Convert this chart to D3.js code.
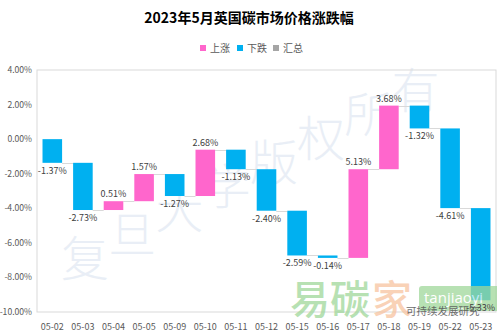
<!DOCTYPE html>
<html><head><meta charset="utf-8">
<script src="https://cdn.jsdelivr.net/npm/d3@7"></script>
<style>body{margin:0;background:#fff}svg{display:block}</style>
</head><body>
<svg id="c" width="497" height="335"></svg>
<script>
const categories = ["05-02","05-03","05-04","05-05","05-09","05-10","05-11","05-12","05-15","05-16","05-17","05-18","05-19","05-22","05-23"];
const changes = [-1.37,-2.73,0.51,1.57,-1.27,2.68,-1.13,-2.40,-2.59,-0.14,5.13,3.68,-1.32,-4.61,-5.33];
const yTicks = [4,2,0,-2,-4,-6,-8,-10];
const legendItems = ["上涨","下跌","汇总"];
const title = "2023年5月英国碳市场价格涨跌幅";

const colors = {"上涨":"#FF66CC","下跌":"#00B0F0","汇总":"#A5A5A5"};
const font = "'Microsoft YaHei','Noto Sans CJK SC','Noto Sans',sans-serif";
const svg = d3.select("#c");
const L=37,R=496,T=70,B=312;

let cum=0;
const rows = categories.map((c,i)=>{const s=cum; cum+=changes[i]; return {c,v:changes[i],start:s,end:cum};});

const x = d3.scaleBand().domain(categories).range([L,R]).paddingInner(0.36).paddingOuter(0.18);
const y = d3.scaleLinear().domain([-10,4]).range([B,T]);

// watermark text
const wm = "复旦大学版权所有";
const wmG = svg.append("g").attr("transform","translate(85,255) rotate(-27)");
wm.split("").forEach((ch,i)=>{
  wmG.append("text").attr("x",i*53).attr("y",0).attr("text-anchor","middle").attr("dominant-baseline","central")
    .attr("font-family","'Noto Sans CJK SC',sans-serif").attr("font-weight",300).attr("font-size",48)
    .attr("fill","#c9d7ea").attr("opacity",0.4).attr("transform",`rotate(27,${i*53},0)`).text(ch);
});

// plot border
svg.append("rect").attr("x",L).attr("y",T).attr("width",R-L).attr("height",B-T)
  .attr("fill","none").attr("stroke","#D9D9D9").attr("stroke-width",1);

// connectors
rows.forEach((d,i)=>{
  if(i<rows.length-1){
    svg.append("line").attr("x1",x(d.c)+x.bandwidth()).attr("x2",x(rows[i+1].c))
      .attr("y1",Math.round(y(d.end))+0.5).attr("y2",Math.round(y(d.end))+0.5)
      .attr("stroke","#D9D9D9").attr("stroke-width",1);
  }
});

// bars
svg.append("g").selectAll("rect").data(rows).join("rect")
  .attr("x",d=>x(d.c)).attr("width",x.bandwidth())
  .attr("y",d=>y(Math.max(d.start,d.end))).attr("height",d=>Math.abs(y(d.start)-y(d.end)))
  .attr("fill",d=>d.v>=0?colors["上涨"]:colors["下跌"]);

// y axis labels
svg.append("g").selectAll("text").data(yTicks).join("text")
  .attr("x",32).attr("y",d=>y(d)).attr("dy","0.35em").attr("text-anchor","end")
  .attr("font-family",font).attr("font-size",8.6).attr("fill","#595959").text(d=>d.toFixed(2)+"%");

// x axis labels
svg.append("g").selectAll("text").data(categories).join("text")
  .attr("x",d=>x(d)+x.bandwidth()/2).attr("y",327).attr("dy","0.35em").attr("text-anchor","middle")
  .attr("font-family",font).attr("font-size",9).attr("fill","#595959").text(d=>d);

// title
svg.append("text").attr("x",249).attr("y",18).attr("dy","0.35em").attr("text-anchor","middle")
  .attr("font-family",font).attr("font-weight","bold").attr("font-size",14).attr("fill","#000").text(title);

// legend
const lx=[200,237,273];
legendItems.forEach((t,i)=>{
  svg.append("rect").attr("x",lx[i]).attr("y",45).attr("width",6).attr("height",6).attr("fill",colors[t]);
  svg.append("text").attr("x",lx[i]+10).attr("y",48).attr("dy","0.35em").attr("font-family",font)
    .attr("font-size",10).attr("fill","#595959").text(t);
});

// logo watermark
const lg = svg.append("g").attr("opacity",0.75);
lg.append("text").attr("x",290).attr("y",314).attr("font-family","'Noto Sans CJK SC',sans-serif").attr("font-size",40)
  .attr("font-weight",500).attr("fill","#9fd79a").text("易碳");
lg.append("text").attr("x",372).attr("y",314).attr("font-family","'Noto Sans CJK SC',sans-serif").attr("font-size",40)
  .attr("font-weight",500).attr("fill","#f7c3a0").text("家");
lg.append("rect").attr("x",419).attr("y",286).attr("width",80).attr("height",25).attr("rx",3).attr("fill","#9fd79a");
lg.append("text").attr("x",424).attr("y",303).attr("font-family","'Open Sans',sans-serif").attr("font-size",15)
  .attr("fill","#fff").text("tanjiaoyi");
lg.append("text").attr("x",440).attr("y",314).attr("font-family","'Open Sans',sans-serif").attr("font-size",11)
  .attr("fill","#fff").attr("opacity",0.8).text(".com");
svg.append("text").attr("x",406).attr("y",315).attr("font-family","'Noto Sans CJK SC',sans-serif").attr("font-size",10.5)
  .attr("fill","#555").attr("opacity",0.85).text("可持续发展研究");

// value labels (on top)
svg.append("g").selectAll("text").data(rows).join("text")
  .attr("x",d=>x(d.c)+x.bandwidth()/2)
  .attr("y",d=>d.v>=0? y(d.end)-4 : y(d.end)+11)
  .attr("text-anchor","middle").attr("font-family",font).attr("font-size",9).attr("fill","#404040")
  .text(d=>d.v.toFixed(2)+"%");
</script>
</body></html>
